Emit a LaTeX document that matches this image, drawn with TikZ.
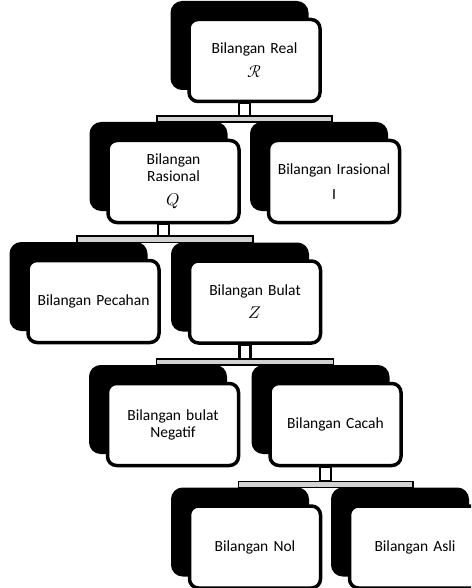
\documentclass[tikz,border=0pt]{standalone}
\usepackage{fontspec}
\usepackage{unicode-math}
\setmainfont{Carlito}
\setmathfont{Latin Modern Math}
\usetikzlibrary{calc}
\pgfdeclarelayer{bg}
\pgfsetlayers{bg,main}
\begin{document}
\begin{tikzpicture}[x=1pt,y=-1pt,
  nbox/.style={draw=black, fill=white, line width=3.5pt, rounded corners=9pt,
    minimum width=131pt, minimum height=82pt, inner sep=2pt, align=center,
    text width=126pt, font=\fontsize{15.5}{17}\selectfont},
  shad/.style={draw=black, fill=black, line width=3.5pt, rounded corners=10pt},
  bar/.style={draw=black, fill=gray!35, line width=1.4pt},
  vconn/.style={draw=black, fill=white, line width=2.4pt}]
\useasboundingbox (0,0) rectangle (471,588);
\clip (0,0) rectangle (471,588);

\node[nbox] (real)      at (254.5,60.5) {Bilangan Real\\[7pt]{\fontsize{17}{17}\selectfont$\mathscr{R}$}};
\node[nbox] (rasional)  at (173.5,181.5) {Bilangan\\Rasional\\[7pt]{\fontsize{17}{17}\selectfont$Q$}};
\node[nbox] (irasional) at (334,181.5) {Bilangan Irasional\\[8pt]I};
\node[nbox] (pecahan)   at (93.5,301.5) {Bilangan Pecahan};
\node[nbox] (bulat)     at (255,302) {Bilangan Bulat\\[6pt]{\fontsize{17}{17}\selectfont$Z$}};
\node[nbox] (negatif)   at (173,424.5) {Bilangan bulat\\Negatif};
\node[nbox] (cacah)     at (335.5,424.5) {Bilangan Cacah};
\node[nbox] (nol)       at (255,547) {Bilangan Nol};
\node[nbox] (asli)      at (415,547) {Bilangan Asli};

\begin{pgfonlayer}{bg}
\foreach \n in {real,rasional,irasional,pecahan,bulat,negatif,cacah,nol,asli}{
  \path[shad] ([shift={(-15pt,15pt)}]\n.south west) rectangle ([shift={(-15pt,15pt)}]\n.north east);
}
\end{pgfonlayer}

\foreach \p/\l/\r in {real/rasional/irasional, rasional/pecahan/bulat, bulat/negatif/cacah, cacah/nol/asli}{
  \draw[vconn] ($(\p.south)+(-15.5pt,0pt)$) rectangle ($(\l.north -| \p.south)+(-4.5pt,22.75pt)$);
  \draw[bar] ($(\l.north)+(-16.5pt,22.75pt)$) rectangle ($(\r.north)+(-2pt,16.75pt)$);
}
\end{tikzpicture}
\end{document}
